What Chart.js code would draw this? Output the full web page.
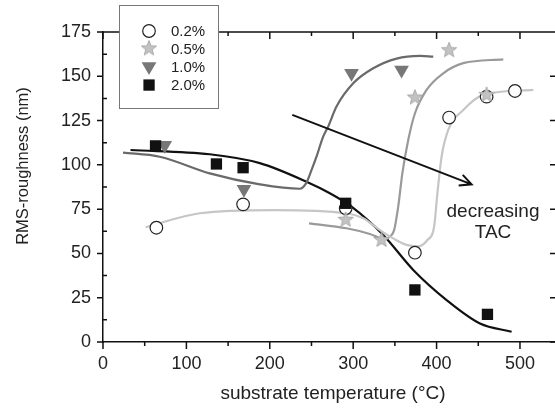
<!DOCTYPE html>
<html>
<head>
<meta charset="utf-8">
<script src="https://cdn.jsdelivr.net/npm/chart.js@4.4.1/dist/chart.umd.min.js"></script>
<style>
  html, body { margin: 0; padding: 0; background: #fff; }
</style>
</head>
<body>
<canvas id="roughnessChart" width="555" height="408"></canvas>
<script>
// measured points, substrate temperature (°C) vs RMS roughness (nm)
const temp02 = [64, 168, 291, 374, 415, 460, 494];
const rms02 = [64.5, 77.7, 75.5, 50.4, 126.7, 138.5, 141.7];
const temp05 = [291, 334, 374, 415, 460];
const rms05 = [69, 57.6, 138, 164.7, 139.5];
const temp10 = [74, 169, 298, 358];
const rms10 = [111, 86.2, 151.7, 153.6];
const temp20 = [63, 136, 168, 291, 374, 461];
const rms20 = [110.7, 100.5, 98.4, 78.3, 29.4, 15.6];

// guide curves
const fit02X = [51, 116, 204, 292, 312, 332, 348, 364, 378, 389, 397, 401, 406, 414, 432, 456, 516];
const fit02Y = [64.8, 72.7, 74.5, 72.7, 69.8, 63.2, 58.5, 54.8, 54, 57.6, 65, 84, 104.6, 119.7, 131, 139.5, 142.3];
const fit05X = [247, 292, 320, 338, 344, 349, 354, 359, 366, 374, 388, 408, 432, 480];
const fit05Y = [67, 64.2, 61, 58, 59.5, 63, 76.4, 95.3, 114, 129, 142.3, 151.7, 157.4, 159.6];
const fit10X = [24, 68, 128, 188, 236, 244, 250, 256, 264, 270, 280, 300, 324, 352, 380, 396];
const fit10Y = [106.9, 104.6, 95.2, 89, 86.5, 90, 97, 104.6, 115.9, 121.6, 132.9, 146, 154.5, 160, 161.5, 161.1];
const fit20X = [33, 128, 188, 244, 272, 298, 336, 372, 412, 452, 490];
const fit20Y = [108.4, 106, 101, 90.5, 84, 76.4, 60.4, 40.7, 23.7, 10.5, 5.8];

const xTickValues = [0, 100, 200, 300, 400, 500];
const yTickValues = [0, 25, 50, 75, 100, 125, 150, 175];
const legendLabels = ['0.2%', '0.5%', '1.0%', '2.0%'];

const FONT = "'Liberation Sans', Arial, sans-serif";

function toXY(xs, ys) {
    return xs.map((x, i) => ({ x: x, y: ys[i] }));
}

function makeStar(size) {
    const c = document.createElement('canvas');
    c.width = size; c.height = size;
    const g = c.getContext('2d');
    drawStar(g, size / 2, size / 2, size / 2 - 1, (size / 2 - 1) * 0.42);
    return c;
}

function drawStar(g, cx, cy, outer, inner) {
    g.beginPath();
    for (let i = 0; i < 10; i++) {
        const r = i % 2 === 0 ? outer : inner;
        const a = -Math.PI / 2 + i * Math.PI / 5;
        const px = cx + r * Math.cos(a), py = cy + r * Math.sin(a);
        if (i === 0) g.moveTo(px, py); else g.lineTo(px, py);
    }
    g.closePath();
    g.fillStyle = '#c2c2c2';
    g.fill();
    g.strokeStyle = '#a9a9a9';
    g.lineWidth = 1;
    g.stroke();
}

const starImg = makeStar(18);

const framePlugin = {
    id: 'frame',
    beforeDatasetsDraw(chart) {
        const { ctx, chartArea: a, scales: { x, y } } = chart;
        ctx.save();
        ctx.strokeStyle = '#111';
        ctx.lineWidth = 1.5;
        ctx.beginPath();
        // top frame line (right one falls just outside the picture)
        ctx.moveTo(a.left, a.top); ctx.lineTo(a.right, a.top);
        // x ticks, majors and midpoints
        for (let i = 0; i < xTickValues.length; i++) {
            const px = x.getPixelForValue(xTickValues[i]);
            ctx.moveTo(px, a.bottom); ctx.lineTo(px, a.bottom + 7);
            ctx.moveTo(px, a.top); ctx.lineTo(px, a.top + 7);
            const mid = xTickValues[i] + 50;
            if (mid < x.max) {
                const pm = x.getPixelForValue(mid);
                ctx.moveTo(pm, a.bottom); ctx.lineTo(pm, a.bottom + 4);
                ctx.moveTo(pm, a.top); ctx.lineTo(pm, a.top + 4);
            }
        }
        for (let i = 0; i < yTickValues.length; i++) {
            const py = y.getPixelForValue(yTickValues[i]);
            ctx.moveTo(a.left - 6, py); ctx.lineTo(a.left, py);
            ctx.moveTo(a.right - 5, py); ctx.lineTo(a.right, py);
            if (i < yTickValues.length - 1) {
                const pm = y.getPixelForValue((yTickValues[i] + yTickValues[i + 1]) / 2);
                ctx.moveTo(a.left, pm); ctx.lineTo(a.left + 4, pm);
            }
        }
        ctx.stroke();
        ctx.restore();
    },
    afterDatasetsDraw(chart) {
        const { ctx, scales: { x, y } } = chart;
        // arrow
        const x0 = x.getPixelForValue(227), y0 = y.getPixelForValue(128.2);
        const x1 = x.getPixelForValue(442), y1 = y.getPixelForValue(89);
        const ang = Math.atan2(y1 - y0, x1 - x0);
        ctx.save();
        ctx.strokeStyle = '#111';
        ctx.lineWidth = 2;
        ctx.beginPath();
        ctx.moveTo(x0, y0); ctx.lineTo(x1, y1);
        ctx.moveTo(x1 - 13 * Math.cos(ang - 0.45), y1 - 13 * Math.sin(ang - 0.45));
        ctx.lineTo(x1, y1);
        ctx.lineTo(x1 - 13 * Math.cos(ang + 0.45), y1 - 13 * Math.sin(ang + 0.45));
        ctx.stroke();

        ctx.fillStyle = '#222';
        ctx.font = '19px ' + FONT;
        ctx.textAlign = 'center';
        ctx.textBaseline = 'middle';
        ctx.fillText('decreasing', 493, 212);
        ctx.fillText('TAC', 493, 233);
        ctx.restore();
    },
    afterDraw(chart) {
        const { ctx } = chart;
        ctx.save();
        // axis titles
        ctx.fillStyle = '#222';
        ctx.textAlign = 'center';
        ctx.textBaseline = 'middle';
        ctx.font = '19px ' + FONT;
        ctx.fillText('substrate temperature (°C)', 333, 394);
        ctx.translate(23, 166);
        ctx.rotate(-Math.PI / 2);
        ctx.font = '16.5px ' + FONT;
        ctx.fillText('RMS-roughness (nm)', 0, 0);
        ctx.restore();

        // legend box
        ctx.save();
        ctx.fillStyle = '#fff';
        ctx.fillRect(119.5, 5.5, 99, 103);
        ctx.strokeStyle = '#777';
        ctx.lineWidth = 1;
        ctx.strokeRect(119.5, 5.5, 99, 103);
        const rows = [31, 48.5, 66.5, 85];
        const sx = 149;
        // circle
        ctx.beginPath();
        ctx.arc(sx, rows[0], 6.3, 0, Math.PI * 2);
        ctx.fillStyle = '#fff'; ctx.fill();
        ctx.strokeStyle = '#222'; ctx.lineWidth = 1.2; ctx.stroke();
        // star
        ctx.drawImage(starImg, sx - 9, rows[1] - 9);
        // triangle down
        ctx.beginPath();
        ctx.moveTo(sx - 7.4, rows[2] - 4.3);
        ctx.lineTo(sx + 7.4, rows[2] - 4.3);
        ctx.lineTo(sx, rows[2] + 8.5);
        ctx.closePath();
        ctx.fillStyle = '#777'; ctx.fill();
        // square
        ctx.fillStyle = '#111';
        ctx.fillRect(sx - 5.6, rows[3] - 5.6, 11.3, 11.3);

        ctx.fillStyle = '#222';
        ctx.font = '15px ' + FONT;
        ctx.textAlign = 'left';
        ctx.textBaseline = 'middle';
        legendLabels.forEach((t, i) => ctx.fillText(t, 171, rows[i] + 1));
        ctx.restore();
    }
};

const curveStyle = {
    showLine: true,
    pointRadius: 0,
    pointHoverRadius: 0,
    borderWidth: 2.2,
    cubicInterpolationMode: 'monotone',
    fill: false,
    order: 10
};

new Chart(document.getElementById('roughnessChart'), {
    type: 'scatter',
    data: {
        datasets: [
            Object.assign({ label: 'fit 0.2%', data: toXY(fit02X, fit02Y), borderColor: '#c6c6c6' }, curveStyle),
            Object.assign({ label: 'fit 0.5%', data: toXY(fit05X, fit05Y), borderColor: '#9a9a9a' }, curveStyle),
            Object.assign({ label: 'fit 1.0%', data: toXY(fit10X, fit10Y), borderColor: '#6a6a6a' }, curveStyle),
            Object.assign({ label: 'fit 2.0%', data: toXY(fit20X, fit20Y), borderColor: '#111111' }, curveStyle),
            {
                label: '0.2%', data: toXY(temp02, rms02), order: 4,
                pointStyle: 'circle', pointRadius: 6.3,
                backgroundColor: '#fff', borderColor: '#222', borderWidth: 1.2
            },
            {
                label: '0.5%', data: toXY(temp05, rms05), order: 3,
                pointStyle: starImg, pointRadius: 9
            },
            {
                label: '1.0%', data: toXY(temp10, rms10), order: 2,
                pointStyle: 'triangle', pointRotation: 180, pointRadius: 8.5,
                backgroundColor: '#777', borderColor: '#777', borderWidth: 0
            },
            {
                label: '2.0%', data: toXY(temp20, rms20), order: 1,
                pointStyle: 'rect', pointRadius: 8,
                backgroundColor: '#111', borderColor: '#111', borderWidth: 0
            }
        ]
    },
    options: {
        responsive: false,
        animation: false,
        layout: { autoPadding: false, padding: { top: 32, right: 0, left: 0, bottom: 0 } },
        plugins: {
            legend: { display: false },
            tooltip: { enabled: false }
        },
        scales: {
            x: {
                type: 'linear',
                min: 0,
                max: 542,
                afterBuildTicks(scale) { scale.ticks = xTickValues.map(v => ({ value: v })); },
                afterFit(scale) { scale.height = 66; },
                ticks: { font: { family: FONT, size: 18 }, color: '#222', padding: 11, maxRotation: 0 },
                grid: { display: false, drawTicks: false },
                border: { display: true, color: '#111', width: 1.5 }
            },
            y: {
                type: 'linear',
                min: 0,
                max: 175,
                afterBuildTicks(scale) { scale.ticks = yTickValues.map(v => ({ value: v })); },
                afterFit(scale) { scale.width = 103; },
                ticks: { font: { family: FONT, size: 18 }, color: '#222', padding: 12 },
                grid: { display: false, drawTicks: false },
                border: { display: true, color: '#111', width: 1.5 }
            }
        }
    },
    plugins: [framePlugin]
});
</script>
</body>
</html>
